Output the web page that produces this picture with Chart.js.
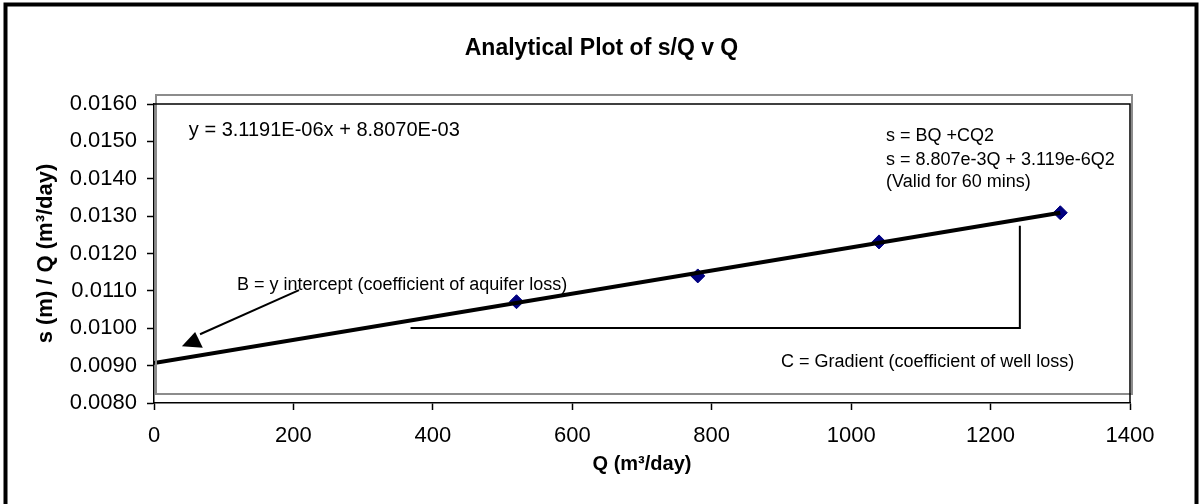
<!DOCTYPE html>
<html>
<head>
<meta charset="utf-8">
<title>Analytical Plot of s/Q v Q</title>
<script src="https://cdn.jsdelivr.net/npm/chart.js@4.4.0/dist/chart.umd.min.js"></script>
<style>
  html, body { margin: 0; padding: 0; background: #fff; }
  #wrap { width: 1199px; height: 504px; position: relative; }
</style>
</head>
<body>
<div id="wrap"><canvas id="plot"></canvas></div>
<script>
// pumping rate Q (m3/day) and specific drawdown s/Q
const flowRates = [520, 780, 1040, 1300];
const drawdownRatio = [0.01071, 0.01140, 0.01231, 0.01309];

// trend line ends, as drawn
const trendQ = [0, 1300];
const trendRatio = [0.00907, 0.01309];

// axis ranges / ticks
const xRange = [0, 1400];
const xStep = 200;
const yRange = [0.0080, 0.0160];
const yStep = 0.0010;

const FONT = "'Liberation Sans', Arial, sans-serif";

// text notes, anchored in data units
const notes = [
  { text: 'y = 3.1191E-06x + 8.8070E-03', q: 50, r: 0.01530, align: 'left', size: 20 },
  { text: 's = BQ +CQ2', q: 1050, r: 0.01513, align: 'left', size: 18 },
  { text: 's = 8.807e-3Q + 3.119e-6Q2', q: 1050, r: 0.01451, align: 'left', size: 18 },
  { text: '(Valid for 60 mins)', q: 1050, r: 0.01390, align: 'left', size: 18 },
  { text: 'B = y intercept (coefficient of aquifer loss)', q: 119, r: 0.01116, align: 'left', size: 18 },
  { text: 'C = Gradient (coefficient of well loss)', q: 1320, r: 0.00910, align: 'right', size: 18 }
];

const decorations = {
  id: 'decorations',
  beforeDraw(chart) {
    const ctx = chart.ctx;
    ctx.save();
    ctx.fillStyle = '#fff';
    ctx.fillRect(0, 0, chart.width, chart.height);
    ctx.restore();
  },
  afterDatasetsDraw(chart) {
    const ctx = chart.ctx;
    const a = chart.chartArea;
    const xs = chart.scales.x, ys = chart.scales.y;
    const px = q => xs.getPixelForValue(q);
    const py = r => ys.getPixelForValue(r);

    ctx.save();
    // grey plot-area box (shifted up a little, like the original)
    ctx.strokeStyle = '#8c8c8c';
    ctx.lineWidth = 2;
    ctx.strokeRect(a.left + 2, a.top - 9, a.right - a.left, a.bottom - a.top);

    // top and right edges of the frame
    ctx.strokeStyle = '#000';
    ctx.lineWidth = 1.5;
    ctx.beginPath();
    ctx.moveTo(a.left, a.top);
    ctx.lineTo(a.right, a.top);
    ctx.lineTo(a.right, a.bottom);
    ctx.stroke();

    // notes
    ctx.fillStyle = '#000';
    ctx.textBaseline = 'middle';
    notes.forEach(n => {
      ctx.font = n.size + 'px ' + FONT;
      ctx.textAlign = n.align;
      ctx.fillText(n.text, px(n.q), py(n.r));
    });

    // arrow to the intercept
    ctx.lineWidth = 2;
    ctx.beginPath();
    ctx.moveTo(px(208), py(0.01102));
    ctx.lineTo(px(66), py(0.00984));
    ctx.stroke();
    ctx.beginPath();
    ctx.moveTo(px(40), py(0.00952));
    ctx.lineTo(px(59), py(0.00990));
    ctx.lineTo(px(70), py(0.00948));
    ctx.closePath();
    ctx.fill();

    // gradient bracket
    ctx.beginPath();
    ctx.moveTo(px(368), py(0.01001));
    ctx.lineTo(px(1242), py(0.01001));
    ctx.lineTo(px(1242), py(0.01274));
    ctx.stroke();
    ctx.restore();
  },
  afterDraw(chart) {
    const ctx = chart.ctx;
    ctx.save();
    ctx.fillStyle = '#000';
    ctx.font = 'bold 23px ' + FONT;
    ctx.textAlign = 'center';
    ctx.textBaseline = 'middle';
    ctx.fillText('Analytical Plot of s/Q v Q', chart.width / 2 + 2, 49);
    // outer border
    ctx.strokeStyle = '#000';
    ctx.lineWidth = 4;
    ctx.strokeRect(5.5, 4.5, chart.width - 8, chart.height + 20);
    ctx.restore();
  }
};

const ctx = document.getElementById('plot').getContext('2d');
const chart = new Chart(ctx, {
  type: 'scatter',
  data: {
    datasets: [{
      type: 'line',
      label: 'Linear (s/Q)',
      data: trendQ.map((q, i) => ({ x: q, y: trendRatio[i] })),
      borderColor: '#000',
      borderWidth: 4,
      pointRadius: 0,
      fill: false
    }, {
      label: 's/Q',
      data: flowRates.map((q, i) => ({ x: q, y: drawdownRatio[i] })),
      backgroundColor: '#000080',
      borderColor: '#000080',
      pointStyle: 'rectRot',
      pointRadius: 7,
      pointHoverRadius: 7
    }]
  },
  options: {
    responsive: true,
    maintainAspectRatio: false,
    animation: false,
    layout: { padding: { left: 0, right: 69, top: 104, bottom: 0 } },
    plugins: {
      legend: { display: false },
      tooltip: { enabled: false }
    },
    scales: {
      x: {
        type: 'linear',
        min: xRange[0],
        max: xRange[1],
        ticks: { stepSize: xStep, color: '#000', font: { family: FONT, size: 22 }, padding: 13, maxRotation: 0, callback: v => String(v) },
        grid: { drawOnChartArea: false, tickLength: 7, tickColor: '#000', tickWidth: 1.5 },
        border: { color: '#000', width: 1.5 },
        title: { display: true, text: 'Q (m³/day)', color: '#000', font: { family: FONT, size: 20, weight: 'bold' }, padding: { top: 0, bottom: 28 } },
        afterFit(scale) { scale.height = 101; }
      },
      y: {
        type: 'linear',
        min: yRange[0],
        max: yRange[1],
        ticks: { stepSize: yStep, color: '#000', font: { family: FONT, size: 22 }, padding: 10, callback: v => v.toFixed(4) },
        grid: { drawOnChartArea: false, tickLength: 7, tickColor: '#000', tickWidth: 1.5 },
        border: { color: '#000', width: 1.5 },
        title: { display: true, text: 's (m) / Q (m³/day)', color: '#000', font: { family: FONT, size: 22, weight: 'bold' }, padding: { top: 33, bottom: 0 } },
        afterFit(scale) { scale.width = 154; }
      }
    }
  },
  plugins: [decorations]
});
</script>
</body>
</html>
